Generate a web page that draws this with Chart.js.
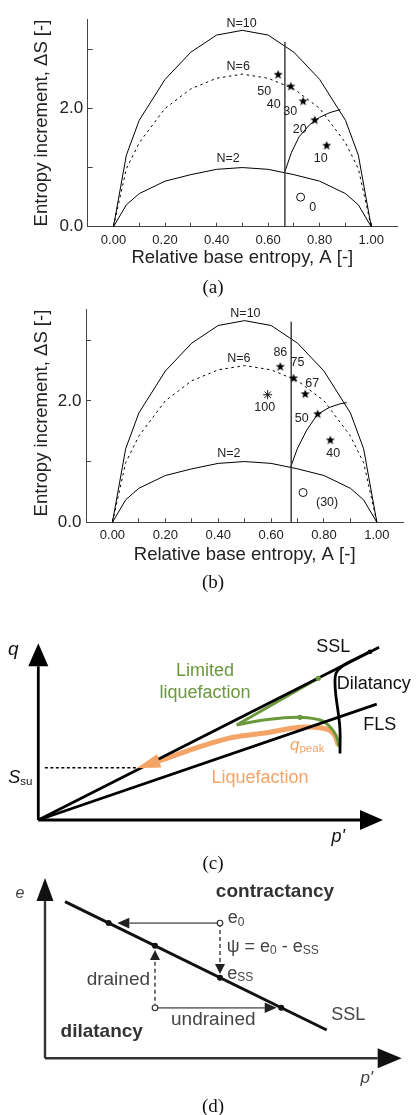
<!DOCTYPE html>
<html>
<head>
<meta charset="utf-8">
<script src="https://cdn.jsdelivr.net/npm/chart.js@4.4.0/dist/chart.umd.min.js"></script>
<style>
  body { margin: 0; background: #fff; width: 418px; height: 1115px; position: relative; overflow: hidden; }
  canvas { position: absolute; left: 0; }
  .cap { position: absolute; left: 213px; transform: translate(-50%, -50%); font: 19px 'Liberation Serif', 'Times New Roman', serif; color: #111; white-space: nowrap; }
</style>
</head>
<body>
<canvas id="chartA" width="418" height="270" style="top:0px"></canvas>
<canvas id="chartB" width="418" height="280" style="top:290px"></canvas>
<canvas id="chartC" width="418" height="250" style="top:600px"></canvas>
<canvas id="chartD" width="418" height="240" style="top:850px"></canvas>
<div class="cap" style="top:287px">(a)</div>
<div class="cap" style="top:582px">(b)</div>
<div class="cap" style="top:863px">(c)</div>
<div class="cap" style="top:1106px">(d)</div>
<script>
var FONT = "'Liberation Sans', Arial, sans-serif";
var GREEN = '#6a983c';
var ORANGE = '#f5a468';
Chart.defaults.font.family = FONT;

// ---- panels (a) and (b): entropy curves ----
var A_GRID = [0, 0.05, 0.1, 0.2, 0.3, 0.4, 0.5, 0.6, 0.7, 0.8, 0.9, 0.95, 1.0];
var S_N10 = [0, 1.21, 1.80, 2.49, 2.95, 3.24, 3.32, 3.24, 2.95, 2.49, 1.80, 1.21, 0];
var S_N6 = [0, 0.98, 1.42, 2.00, 2.33, 2.51, 2.58, 2.51, 2.33, 2.00, 1.42, 0.98, 0];
var S_N2 = [0, 0.37, 0.56, 0.77, 0.88, 0.97, 1.00, 0.97, 0.88, 0.77, 0.56, 0.37, 0];

var branchA_a = [0.665, 0.69, 0.72, 0.76, 0.80, 0.84, 0.88];
var branchS_a = [0.93, 1.25, 1.52, 1.72, 1.85, 1.93, 1.98];
var branchA_b = [0.674, 0.70, 0.735, 0.776, 0.82, 0.86, 0.886];
var branchS_b = [0.91, 1.22, 1.52, 1.78, 1.89, 1.95, 1.97];

var starA_a = [0.639, 0.688, 0.736, 0.781, 0.827];
var starS_a = [2.57, 2.37, 2.12, 1.80, 1.37];
var starLbl_a = ['50', '40', '30', '20', '10'];
var circA_a = [0.726];
var circS_a = [0.50];
var circLbl_a = ['0'];

var starA_b = [0.635, 0.685, 0.729, 0.776, 0.824];
var starS_b = [2.56, 2.37, 2.11, 1.78, 1.35];
var starLbl_b = ['86', '75', '67', '50', '40'];
var astA_b = [0.587];
var astS_b = [2.10];
var astLbl_b = ['100'];
var circA_b = [0.721];
var circS_b = [0.49];
var circLbl_b = ['(30)'];

// label offsets in pixels (style, not data)
var starOff_a = [[-14, 17], [-17, 18], [-13, 10], [-15, 9], [-6, 13]];
var circOff_a = [[12, 10]];
var starOff_b = [[0, -14], [4, -16], [7, -11], [-16, 4], [3, 13]];
var astOff_b = [[-3, 13]];
var circOff_b = [[24, 10]];

// ---- panel (c): q - p' schematic (arbitrary units 0..10) ----
var C_SSL_P = [0, 9.88], C_SSL_Q = [0, 9.77];
var C_FLS_P = [0, 9.81], C_FLS_Q = [0, 6.56];
var C_SSU_P = [0.19, 3.0], C_SSU_Q = [2.96, 2.96];
var C_DIL_P = [8.745, 8.745, 8.696, 8.629, 8.60, 8.629, 8.794, 9.13, 9.614];
var C_DIL_Q = [3.77, 5.09, 6.04, 6.98, 7.74, 8.30, 8.68, 9.05, 9.52];
var C_GRN_P = [8.716, 8.649, 8.455, 8.165, 7.586, 7.006, 6.426, 5.751];
var C_GRN_Q = [4.13, 4.71, 5.28, 5.66, 5.81, 5.76, 5.63, 5.38];
var C_GRN2_P = [5.751, 8.116], C_GRN2_Q = [5.38, 8.02];
var C_GDOT_P = [7.586, 8.116], C_GDOT_Q = [5.81, 8.02];
var C_ORG_P = [8.696, 8.551, 8.261, 7.586, 6.620, 5.652, 4.687, 3.722, 3.504];
var C_ORG_Q = [4.24, 4.91, 5.19, 5.25, 4.94, 4.68, 4.15, 3.49, 3.35];

// ---- panel (d): e - p' schematic ----
var D_SSL_P = [0.561, 7.898], D_SSL_E = [8.686, 1.570];
var D_DOT_P = [1.784, 3.084, 4.906, 6.623], D_DOT_E = [7.5, 6.239, 4.471, 2.806];
var D_OPEN_P = [4.906, 3.084], D_OPEN_E = [7.5, 2.8];

function pts(xs, ys) {
  return xs.map(function (x, i) { return {x: x, y: ys[i]}; });
}

function line(xs, ys, extra) {
  return Object.assign({
    data: pts(xs, ys), showLine: true, pointRadius: 0, pointHoverRadius: 0,
    borderColor: '#000', borderWidth: 1, fill: false, clip: false
  }, extra);
}

function starImage(r) {
  var c = document.createElement('canvas');
  var size = Math.ceil(r * 2 + 2);
  c.width = c.height = size;
  var g = c.getContext('2d');
  g.beginPath();
  for (var i = 0; i < 10; i++) {
    var rr = i % 2 ? r * 0.42 : r;
    var a = -Math.PI / 2 + i * Math.PI / 5;
    g.lineTo(size / 2 + rr * Math.cos(a), size / 2 + rr * Math.sin(a));
  }
  g.closePath();
  g.fillStyle = '#000';
  g.fill();
  return c;
}
var STAR = starImage(4.8);

// text at data coordinates, optional sub-parts
var textMarks = {
  id: 'textMarks',
  afterDatasetsDraw: function (chart, args, opts) {
    var ctx = chart.ctx, sx = chart.scales.x, sy = chart.scales.y;
    (opts.items || []).forEach(function (t) {
      var parts = t.parts || [[t.text, t.font || opts.font, 0]];
      var px = sx.getPixelForValue(t.x), py = sy.getPixelForValue(t.y);
      ctx.save();
      ctx.fillStyle = t.color || opts.color;
      ctx.textBaseline = 'middle';
      ctx.textAlign = 'left';
      var total = 0;
      parts.forEach(function (p) { ctx.font = p[1]; total += ctx.measureText(p[0]).width; });
      if (!t.align || t.align === 'center') px -= total / 2;
      else if (t.align === 'right') px -= total;
      parts.forEach(function (p) {
        ctx.font = p[1];
        ctx.fillText(p[0], px, py + (p[2] || 0));
        px += ctx.measureText(p[0]).width;
      });
      ctx.restore();
    });
  }
};

// number labels next to markers
var pointLabels = {
  id: 'pointLabels',
  afterDatasetsDraw: function (chart) {
    var ctx = chart.ctx;
    chart.data.datasets.forEach(function (ds, i) {
      if (!ds.labels) return;
      var meta = chart.getDatasetMeta(i);
      ctx.save();
      ctx.font = '12.5px ' + FONT;
      ctx.fillStyle = '#222';
      ctx.textAlign = 'center';
      ctx.textBaseline = 'middle';
      meta.data.forEach(function (pt, j) {
        var off = ds.labelOffsets[j];
        ctx.fillText(ds.labels[j], pt.x + off[0], pt.y + off[1]);
      });
      ctx.restore();
    });
  }
};

// arrow head continuing past the last point of a dataset
var arrowHeads = {
  id: 'arrowHeads',
  afterDatasetsDraw: function (chart) {
    var ctx = chart.ctx;
    chart.data.datasets.forEach(function (ds, i) {
      if (!ds.arrow) return;
      var el = chart.getDatasetMeta(i).data;
      var a = el[el.length - 2], b = el[el.length - 1];
      var ang = Math.atan2(b.y - a.y, b.x - a.x);
      ctx.save();
      ctx.translate(b.x, b.y);
      ctx.rotate(ang);
      ctx.beginPath();
      ctx.moveTo(ds.arrow.len, 0);
      ctx.lineTo(0, -ds.arrow.half);
      ctx.lineTo(0, ds.arrow.half);
      ctx.closePath();
      ctx.fillStyle = ds.arrow.color || ds.borderColor;
      ctx.fill();
      ctx.restore();
    });
  }
};

function entropyChart(id, c) {
  var datasets = [
    {data: pts(c.starA, c.starS), pointStyle: STAR, pointRadius: 4, labels: c.starLbl, labelOffsets: c.starOff, clip: false},
    {data: pts(c.circA, c.circS), pointStyle: 'circle', pointRadius: 4, backgroundColor: '#fff', borderColor: '#111', borderWidth: 1,
     labels: c.circLbl, labelOffsets: c.circOff, clip: false}
  ];
  if (c.astA) {
    datasets.push({data: pts(c.astA, c.astS), pointStyle: 'star', pointRadius: 4.5, borderColor: '#111', borderWidth: 1,
      labels: c.astLbl, labelOffsets: c.astOff, clip: false});
  }
  datasets.push(
    line([c.vline, c.vline], [0, c.vtop], {borderColor: '#333', borderWidth: 1.4}),
    line(A_GRID, S_N10),
    line(A_GRID, S_N6, {borderDash: [2.5, 3.5]}),
    line(A_GRID, S_N2),
    line(c.branchA, c.branchS)
  );
  var hideEdge = function (lo, hi) {
    return function (ctx) {
      var v = ctx.tick ? ctx.tick.value : 0;
      return (v < lo || v > hi) ? 'rgba(0,0,0,0)' : '#444';
    };
  };
  return new Chart(document.getElementById(id), {
    type: 'scatter',
    data: {datasets: datasets},
    options: {
      responsive: false, animation: false, events: [],
      layout: {padding: c.padding},
      plugins: {
        legend: {display: false}, tooltip: {enabled: false},
        textMarks: {items: c.curveLabels, font: '12.5px ' + FONT, color: '#222'}
      },
      scales: {
        x: {
          type: 'linear', min: -0.1, max: 1.1,
          border: {display: true, color: '#444', width: 1},
          grid: {drawOnChartArea: false, tickLength: -4, color: hideEdge(-0.05, 1.05)},
          ticks: {
            stepSize: 0.1, includeBounds: false, autoSkip: false, maxRotation: 0, padding: 9.5,
            color: '#222', font: {size: 13},
            callback: function (v) {
              var k = Math.round(v * 10);
              return (k % 2 === 0 && k >= 0 && k <= 10) ? (k / 10).toFixed(2) : '';
            }
          },
          title: {display: true, text: 'Relative base entropy, A [-]', color: '#222', font: {size: 18.5},
                  padding: {top: 0, bottom: c.xTitlePad}},
          afterFit: function (s) { s.height = c.xHeight; }
        },
        y: {
          min: 0, max: 3.5,
          border: {display: true, color: '#444', width: 1},
          grid: {drawOnChartArea: false, tickLength: -5, color: hideEdge(-1, 3.05)},
          ticks: {
            stepSize: 1, includeBounds: false, autoSkip: false, padding: 9.5,
            color: '#222', font: {size: 17},
            callback: function (v) {
              var k = Math.round(v);
              return (Math.abs(v - k) < 1e-6 && (k === 0 || k === 2)) ? k.toFixed(1) : '';
            }
          },
          title: {display: true, text: 'Entropy increment, \u0394S [-]', color: '#222', font: {size: 18.5},
                  align: 'end', padding: {top: 30.6, bottom: 0}},
          afterFit: function (s) { s.width = c.yWidth; }
        }
      }
    },
    plugins: [textMarks, pointLabels]
  });
}

entropyChart('chartA', {
  padding: {top: 10, right: 21, left: 0, bottom: 0}, yWidth: 87.7, xHeight: 43.3, xTitlePad: 1.4,
  vline: 0.665, vtop: 3.125, branchA: branchA_a, branchS: branchS_a,
  starA: starA_a, starS: starS_a, starLbl: starLbl_a, starOff: starOff_a,
  circA: circA_a, circS: circS_a, circLbl: circLbl_a, circOff: circOff_a,
  curveLabels: [
    {x: 0.497, y: 3.43, text: 'N=10'},
    {x: 0.484, y: 2.70, text: 'N=6'},
    {x: 0.445, y: 1.15, text: 'N=2'}
  ]
});

entropyChart('chartB', {
  padding: {top: 13.3, right: 14.7, left: 0, bottom: 0}, yWidth: 86, xHeight: 47.7, xTitlePad: 3.9,
  vline: 0.676, vtop: 3.30, branchA: branchA_b, branchS: branchS_b,
  starA: starA_b, starS: starS_b, starLbl: starLbl_b, starOff: starOff_b,
  astA: astA_b, astS: astS_b, astLbl: astLbl_b, astOff: astOff_b,
  circA: circA_b, circS: circS_b, circLbl: circLbl_b, circOff: circOff_b,
  curveLabels: [
    {x: 0.503, y: 3.44, text: 'N=10'},
    {x: 0.478, y: 2.69, text: 'N=6'},
    {x: 0.44, y: 1.14, text: 'N=2'}
  ]
});

function F(size, style) { return (style || '') + ' ' + size + 'px ' + FONT; }

function schematicChart(id, padding, datasets, texts, color) {
  return new Chart(document.getElementById(id), {
    type: 'scatter',
    data: {datasets: datasets},
    options: {
      responsive: false, animation: false, events: [],
      layout: {padding: padding},
      plugins: {
        legend: {display: false}, tooltip: {enabled: false},
        textMarks: {items: texts, font: F(18), color: color}
      },
      scales: {
        x: {type: 'linear', display: false, min: 0, max: 10},
        y: {display: false, min: 0, max: 10}
      }
    },
    plugins: [textMarks, arrowHeads]
  });
}

// (c)
schematicChart('chartC', {left: 38.3, right: 34.7, top: 43.3, bottom: 30}, [
  {data: pts(C_GDOT_P, C_GDOT_Q), pointRadius: 2.6, backgroundColor: GREEN, borderWidth: 0, clip: false},
  {data: pts([9.614], [9.52]), pointRadius: 2.4, backgroundColor: '#000', borderWidth: 0, clip: false},
  line([0, 0], [0, 8.70], {borderWidth: 2.8, arrow: {len: 23, half: 10}}),
  line([0, 9.324], [0, 0], {borderWidth: 2.8, arrow: {len: 23, half: 10}}),
  line(C_SSL_P, C_SSL_Q, {borderWidth: 2.8}),
  line(C_FLS_P, C_FLS_Q, {borderWidth: 2.8}),
  line(C_DIL_P, C_DIL_Q, {borderWidth: 2.8, tension: 0.4}),
  line(C_GRN_P, C_GRN_Q, {borderColor: GREEN, borderWidth: 3, tension: 0.4}),
  line(C_GRN2_P, C_GRN2_Q, {borderColor: GREEN, borderWidth: 3}),
  line(C_ORG_P, C_ORG_Q, {borderColor: ORANGE, borderWidth: 5, tension: 0.4, arrow: {len: 24, half: 7}}),
  line(C_SSU_P, C_SSU_Q, {borderWidth: 1.4, borderDash: [3, 2.5]})
], [
  {x: -0.725, y: 9.62, parts: [['q', F(19, 'italic'), 0]]},
  {x: 8.551, y: 9.81, text: 'SSL'},
  {x: 8.649, y: 7.70, text: 'Dilatancy', align: 'left'},
  {x: 9.42, y: 5.38, text: 'FLS', align: 'left'},
  {x: 4.832, y: 8.45, text: 'Limited', color: GREEN},
  {x: 4.832, y: 7.17, text: 'liquefaction', color: GREEN},
  {x: 7.296, y: 4.24, align: 'left', color: ORANGE, parts: [['q', F(17, 'italic'), 0], ['peak', F(11.5), 4]]},
  {x: 6.426, y: 2.36, text: 'Liquefaction', color: ORANGE},
  {x: -0.87, y: 2.36, align: 'left', parts: [['S', F(18, 'italic'), 0], ['su', F(11.5), 4]]},
  {x: 8.696, y: -0.945, parts: [["p'", F(18, 'italic'), 0]]}
], '#111');

// (d)
schematicChart('chartD', {left: 45, right: 16.3, top: 28, bottom: 31.7}, [
  {data: pts(D_DOT_P, D_DOT_E), pointRadius: 3, backgroundColor: '#111', borderWidth: 0, clip: false},
  {data: pts(D_OPEN_P, D_OPEN_E), pointRadius: 2.8, backgroundColor: '#fff', borderColor: '#333', borderWidth: 1.2, clip: false},
  line(D_SSL_P, D_SSL_E, {borderColor: '#111', borderWidth: 3}),
  line([0, 0], [0, 8.72], {borderColor: '#333', borderWidth: 2.4, arrow: {len: 23, half: 8.5, color: '#111'}}),
  line([0, 9.327], [0, 0], {borderColor: '#333', borderWidth: 2.4, arrow: {len: 24, half: 10, color: '#111'}}),
  line([4.906, 2.363], [7.5, 7.5], {borderColor: '#777', borderWidth: 1.6, arrow: {len: 12, half: 5.3, color: '#222'}}),
  line([4.906, 4.906], [7.5, 5.23], {borderColor: '#444', borderWidth: 1.5, borderDash: [4, 3], arrow: {len: 10, half: 5, color: '#222'}}),
  line([3.084, 3.084], [2.8, 5.45], {borderColor: '#444', borderWidth: 1.5, borderDash: [4, 3], arrow: {len: 10, half: 5, color: '#222'}}),
  line([3.084, 6.159], [2.8, 2.8], {borderColor: '#777', borderWidth: 1.8, arrow: {len: 12, half: 5.3, color: '#222'}})
], [
  {x: -0.70, y: 9.15, parts: [['e', F(16, 'italic'), 0]]},
  {x: 6.448, y: 9.24, text: 'contractancy', font: F(19, 'bold'), color: '#333'},
  {x: 5.122, y: 7.765, align: 'left', parts: [['e', F(18), 0], ['0', F(12), 4]]},
  {x: 5.094, y: 6.19, align: 'left', parts: [['\u03c8 = e', F(18), 0], ['0', F(12), 4], [' - e', F(18), 0], ['SS', F(12), 4]]},
  {x: 5.11, y: 4.675, align: 'left', parts: [['e', F(18), 0], ['SS', F(12), 4]]},
  {x: 2.944, y: 4.343, text: 'drained', align: 'right', font: F(19)},
  {x: 4.718, y: 2.163, text: 'undrained', font: F(19)},
  {x: 8.503, y: 2.40, text: 'SSL'},
  {x: 1.59, y: 1.475, text: 'dilatancy', font: F(19, 'bold'), color: '#333'},
  {x: 9.02, y: -1.11, parts: [["p'", F(17, 'italic'), 0]]}
], '#444');
</script>
</body>
</html>
